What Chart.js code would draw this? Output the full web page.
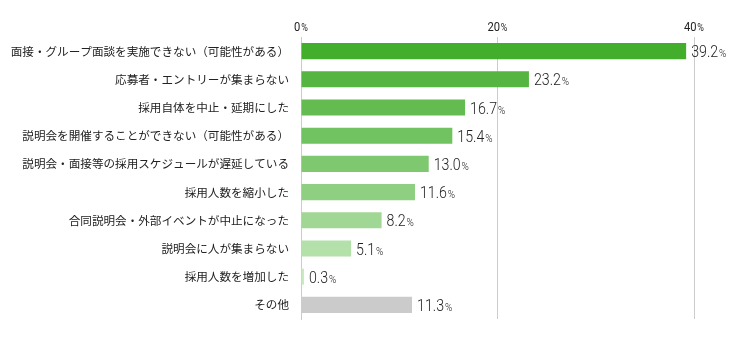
<!DOCTYPE html>
<html>
<head>
<meta charset="utf-8">
<script src="https://cdn.jsdelivr.net/npm/chart.js"></script>
<style>
  html, body { margin: 0; padding: 0; background: #fff; }
  #wrap { width: 750px; height: 340px; }
</style>
</head>
<body>
<div id="wrap"><canvas id="reasonsBarChart" width="750" height="340"></canvas></div>
<script>
const categories = [
    '面接・グループ面談を実施できない（可能性がある）',
    '応募者・エントリーが集まらない',
    '採用自体を中止・延期にした',
    '説明会を開催することができない（可能性がある）',
    '説明会・面接等の採用スケジュールが遅延している',
    '採用人数を縮小した',
    '合同説明会・外部イベントが中止になった',
    '説明会に人が集まらない',
    '採用人数を増加した',
    'その他'
];
const percentages = [39.2, 23.2, 16.7, 15.4, 13.0, 11.6, 8.2, 5.1, 0.3, 11.3];
const xTickValues = [0, 20, 40];

const barColors = [
    '#43ae2b', '#55b540', '#64bc51', '#71c261', '#7ec86f',
    '#8fcf81', '#a1d794', '#b4e0a9', '#c7e9bd', '#cbcbcb'
];

const labelFont = '"Noto Sans CJK JP", "Noto Sans", sans-serif';
const numFont = 'Roboto, "Liberation Sans", sans-serif';

// draws "number" + smaller "%" squeezed a bit to look like a narrow face
function drawPercent(ctx, num, x, baseline, bigSize, smallSize, align, weight) {
    const squeeze = 0.86;
    ctx.font = weight + ' ' + bigSize + 'px ' + numFont;
    const w1 = ctx.measureText(num).width * squeeze;
    ctx.font = weight + ' ' + smallSize + 'px ' + numFont;
    const w2 = ctx.measureText('%').width * squeeze;
    let start = x;
    if (align === 'center') start = x - (w1 + w2 + 1) / 2;
    ctx.save();
    ctx.translate(start, baseline);
    ctx.scale(squeeze, 1);
    ctx.textBaseline = 'alphabetic';
    ctx.textAlign = 'left';
    ctx.font = weight + ' ' + bigSize + 'px ' + numFont;
    ctx.fillText(num, 0, 0);
    const adv = ctx.measureText(num).width + 1;
    ctx.font = weight + ' ' + smallSize + 'px ' + numFont;
    ctx.fillText('%', adv, 0);
    ctx.restore();
}

const valueLabels = {
    id: 'valueLabels',
    afterDatasetsDraw(chart) {
        const ctx = chart.ctx;
        const meta = chart.getDatasetMeta(0);
        ctx.save();
        ctx.fillStyle = '#222';
        meta.data.forEach((bar, i) => {
            drawPercent(ctx, percentages[i].toFixed(1), bar.x + 5, bar.y + 6, 16.5, 11.5, 'left', 300);
        });
        // top axis tick labels
        const xs = chart.scales.x;
        xTickValues.forEach(v => {
            drawPercent(ctx, String(v), xs.getPixelForValue(v), 30.5, 13, 10.5, 'center', 400);
        });
        ctx.restore();
    }
};

const ctxReasons = document.getElementById('reasonsBarChart');
const myChart = new Chart(ctxReasons, {
    type: 'bar',
    data: {
        labels: categories,
        datasets: [{
            data: percentages,
            backgroundColor: barColors,
            borderWidth: 0,
            barPercentage: 0.57,
            categoryPercentage: 1.0
        }]
    },
    options: {
        indexAxis: 'y',
        responsive: false,
        animation: false,
        layout: {
            padding: { top: 0, right: 56, bottom: 21, left: 0 }
        },
        plugins: {
            legend: { display: false },
            tooltip: { enabled: false }
        },
        scales: {
            x: {
                position: 'top',
                min: 0,
                max: 40,
                afterBuildTicks(scale) {
                    scale.ticks = xTickValues.map(v => ({ value: v }));
                },
                afterFit(scale) {
                    scale.height = 37;
                },
                ticks: { display: false },
                grid: {
                    color: '#cccccc',
                    drawTicks: false
                },
                border: { display: false }
            },
            y: {
                afterFit(scale) {
                    scale.width = 301;
                },
                ticks: {
                    color: '#222',
                    padding: 4,
                    font: { size: 11.6, family: labelFont }
                },
                grid: { display: false },
                border: { display: true, color: '#cccccc' }
            }
        }
    },
    plugins: [valueLabels]
});
</script>
</body>
</html>
